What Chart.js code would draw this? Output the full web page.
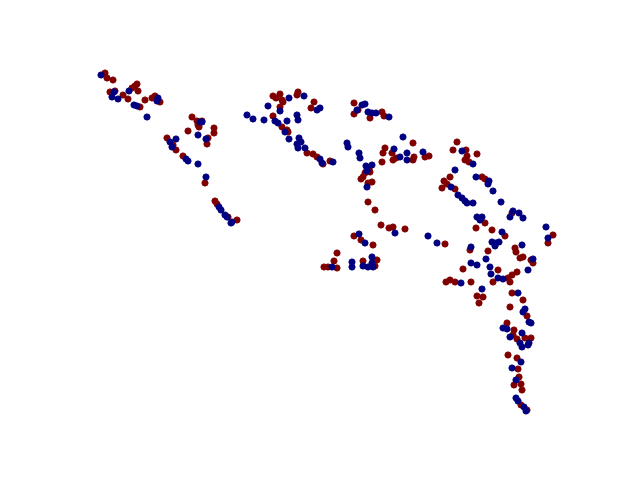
<!DOCTYPE html>
<html><head><meta charset="utf-8">
<script src="https://cdn.jsdelivr.net/npm/chart.js@4"></script>
<style>html,body{margin:0;padding:0;background:#fff}canvas{display:block}</style>
</head><body>
<canvas id="c" width="640" height="480"></canvas>
<script>
const xBlue = [101,114,112,118,129,134,137,158,157,147,200,202,198,206,176,170,172,186,188,198,206,219,221,225,227,232,231,
289,304,268,280,320,317,247,253,264,275,278,287,285,297,298,289,299,301,297,298,305,320,322,333,
362,365,357,368,372,376,389,403,347,348,359,360,394,400,407,407,423,366,372,367,
367,367,395,359,365,332,352,352,363,368,372,372,373,
462,473,455,451,476,489,488,493,458,462,465,467,473,501,
513,510,519,523,546,548,502,492,496,499,495,522,533,528,498,503,
477,480,482,428,437,471,486,471,477,490,491,461,482,
518,525,523,529,531,503,507,522,510,529,520,522,528,521,512,516,516,518,524,526];
const yBlue = [75,92,97,99,91,105,106,98,101,117,122,122,135,139,139,142,147,159,161,164,177,207,210,215,217,222,223,
98,96,106,111,108,110,115,119,120,121,123,121,132,115,120,139,138,142,144,148,148,159,163,162,
105,104,110,112,113,113,117,137,143,147,153,158,149,157,153,160,152,166,165,170,
171,187,233,234,243,267,262,267,266,267,257,263,267,
151,164,170,187,177,181,184,191,195,198,201,203,203,202,
211,217,213,218,227,238,232,242,243,242,246,245,259,270,278,279,
217,220,217,236,243,247,259,263,265,267,274,283,289,
293,309,312,322,323,328,329,333,337,343,343,347,345,362,368,380,398,401,407,411];
const xRed = [105,107,113,110,115,123,128,132,135,137,138,140,145,152,155,160,192,197,202,
198,199,188,214,214,208,207,167,173,176,183,205,215,217,228,237,
273,280,276,282,283,280,298,297,314,311,273,282,287,288,307,313,317,323,330,
354,358,354,370,382,384,413,385,383,392,396,393,413,414,425,429,369,365,382,
370,363,361,368,372,368,375,381,389,393,405,354,361,373,337,334,324,328,337,363,377,375,
457,453,466,467,465,469,477,450,444,447,442,455,482,485,
512,553,548,492,505,515,516,520,523,531,533,498,517,512,508,
485,476,445,470,488,463,493,446,450,455,471,477,483,479,
510,512,523,510,527,507,514,513,517,525,531,
508,517,518,519,521,514,522,521,527];
const yRed = [73,78,80,92,91,95,99,88,86,84,91,107,100,98,96,102,117,121,121,
125,127,131,128,133,138,144,138,145,150,156,183,201,204,217,220,
96,94,98,100,102,107,92,95,102,108,116,127,130,132,153,154,157,164,161,
103,110,114,118,112,116,143,148,153,153,158,160,160,157,157,156,169,173,162,
172,177,179,183,182,202,210,225,228,227,229,236,240,245,253,261,267,267,268,261,260,266,
142,150,150,156,160,162,154,177,181,184,188,189,177,179,
213,235,243,230,236,248,252,258,257,260,263,270,272,275,278,
223,228,244,250,251,269,282,282,280,282,282,296,297,303,
282,293,300,307,316,323,330,335,339,338,338,
355,358,369,377,384,385,390,405,410];

const toPts = (xs, ys) => xs.map((x, i) => ({x: x, y: ys[i]}));

new Chart(document.getElementById('c'), {
  type: 'scatter',
  data: {
    datasets: [
      {label: '0', data: toPts(xBlue, yBlue), backgroundColor: '#000080', borderColor: '#000080', pointRadius: 3.1, borderWidth: 1},
      {label: '1', data: toPts(xRed, yRed), backgroundColor: '#800000', borderColor: '#800000', pointRadius: 3.1, borderWidth: 1}
    ]
  },
  options: {
    responsive: false,
    animation: false,
    layout: {padding: 0, autoPadding: false},
    plugins: {legend: {display: false}, tooltip: {enabled: false}},
    scales: {
      x: {type: 'linear', min: 0, max: 640, display: false},
      y: {type: 'linear', min: 0, max: 480, reverse: true, display: false}
    }
  }
});
</script>
</body></html>
